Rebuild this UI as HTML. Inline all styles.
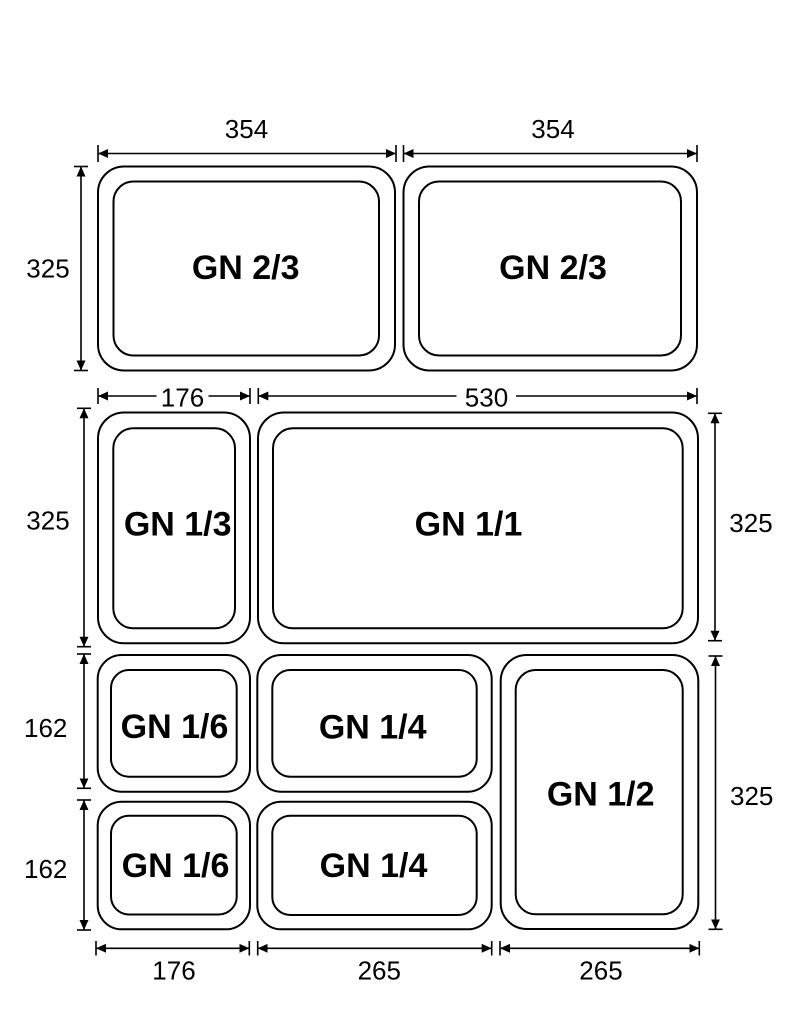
<!DOCTYPE html>
<html>
<head>
<meta charset="utf-8">
<style>
  html,body{margin:0;padding:0;background:#fff;}
  svg{display:block;}
  .b{fill:none;stroke:#000;stroke-width:2;}
  .d{stroke:#000;stroke-width:1.6;fill:none;}
  .t{stroke:#000;stroke-width:1.6;}
  .n{font-family:"Liberation Sans",Arial,sans-serif;font-size:26px;fill:#000;text-anchor:middle;}
  .l{font-family:"Liberation Sans",Arial,sans-serif;font-size:34px;font-weight:bold;fill:#000;text-anchor:middle;}
</style>
</head>
<body>
<svg width="800" height="1025" viewBox="0 0 800 1025" xmlns="http://www.w3.org/2000/svg">
  <defs>
    <marker id="ar" viewBox="0 0 10 9" refX="10" refY="4.5" markerWidth="10" markerHeight="9" orient="auto-start-reverse" markerUnits="userSpaceOnUse">
      <path d="M0,0 L10,4.5 L0,9 z" fill="#000"/>
    </marker>
  </defs>
  <rect width="800" height="1025" fill="#fff"/>

  <!-- ===== Top row ===== -->
  <line class="d" x1="98" y1="153.5" x2="396" y2="153.5" marker-start="url(#ar)" marker-end="url(#ar)"/>
  <line class="d" x1="403.5" y1="153.5" x2="697" y2="153.5" marker-start="url(#ar)" marker-end="url(#ar)"/>
  <line class="t" x1="98" y1="145" x2="98" y2="162"/>
  <line class="t" x1="396" y1="145" x2="396" y2="162"/>
  <line class="t" x1="403.5" y1="145" x2="403.5" y2="162"/>
  <line class="t" x1="697" y1="145" x2="697" y2="162"/>
  <text class="n" x="246.5" y="138">354</text>
  <text class="n" x="553" y="138">354</text>

  <line class="d" x1="81" y1="166.5" x2="81" y2="370.5" marker-start="url(#ar)" marker-end="url(#ar)"/>
  <line class="t" x1="74" y1="166.5" x2="88" y2="166.5"/>
  <line class="t" x1="74" y1="370.5" x2="88" y2="370.5"/>
  <text class="n" x="48" y="277.5">325</text>

  <rect class="b" x="98" y="166.5" width="297" height="204" rx="26" ry="26"/>
  <rect class="b" x="113.5" y="181.5" width="265.5" height="174" rx="20" ry="20"/>
  <text class="l" x="245.7" y="279">GN 2/3</text>
  <rect class="b" x="403.5" y="166.5" width="293.5" height="204" rx="26" ry="26"/>
  <rect class="b" x="419" y="181.5" width="262" height="174" rx="20" ry="20"/>
  <text class="l" x="553" y="279">GN 2/3</text>

  <!-- ===== Row 2 ===== -->
  <line class="d" x1="98" y1="396" x2="156.5" y2="396" marker-start="url(#ar)"/>
  <line class="d" x1="208.5" y1="396" x2="250" y2="396" marker-end="url(#ar)"/>
  <line class="d" x1="258.3" y1="396" x2="456.5" y2="396" marker-start="url(#ar)"/>
  <line class="d" x1="516" y1="396" x2="697" y2="396" marker-end="url(#ar)"/>
  <line class="t" x1="98" y1="388" x2="98" y2="404"/>
  <line class="t" x1="250" y1="388" x2="250" y2="404"/>
  <line class="t" x1="258.3" y1="388" x2="258.3" y2="404"/>
  <line class="t" x1="697" y1="388" x2="697" y2="404"/>
  <text class="n" x="182.5" y="406.5">176</text>
  <text class="n" x="486.5" y="406.5">530</text>

  <line class="d" x1="84" y1="408.3" x2="84" y2="646.7" marker-start="url(#ar)" marker-end="url(#ar)"/>
  <line class="t" x1="77" y1="408.3" x2="91" y2="408.3"/>
  <line class="t" x1="77" y1="646.7" x2="91" y2="646.7"/>
  <text class="n" x="48" y="529.5">325</text>

  <line class="d" x1="715" y1="413.3" x2="715" y2="640.7" marker-start="url(#ar)" marker-end="url(#ar)"/>
  <line class="t" x1="708" y1="413.3" x2="722" y2="413.3"/>
  <line class="t" x1="708" y1="640.7" x2="722" y2="640.7"/>
  <text class="n" x="751" y="532">325</text>

  <rect class="b" x="98" y="412.5" width="152" height="230.8" rx="26" ry="26"/>
  <rect class="b" x="113.3" y="428.3" width="121.7" height="200" rx="20" ry="20"/>
  <text class="l" x="177.7" y="535.5">GN 1/3</text>

  <rect class="b" x="258" y="412.5" width="440" height="230.8" rx="26" ry="26"/>
  <rect class="b" x="273" y="428.3" width="409.7" height="200" rx="20" ry="20"/>
  <text class="l" x="468.5" y="535.5">GN 1/1</text>

  <!-- ===== Row 3 ===== -->
  <line class="d" x1="84" y1="654" x2="84" y2="788.3" marker-start="url(#ar)" marker-end="url(#ar)"/>
  <line class="t" x1="77" y1="654" x2="91" y2="654"/>
  <line class="t" x1="77" y1="788.3" x2="91" y2="788.3"/>
  <text class="n" x="45.7" y="736.8">162</text>
  <line class="d" x1="84" y1="800" x2="84" y2="930" marker-start="url(#ar)" marker-end="url(#ar)"/>
  <line class="t" x1="77" y1="800" x2="91" y2="800"/>
  <line class="t" x1="77" y1="930" x2="91" y2="930"/>
  <text class="n" x="45.7" y="877.8">162</text>

  <line class="d" x1="715.5" y1="656" x2="715.5" y2="929.3" marker-start="url(#ar)" marker-end="url(#ar)"/>
  <line class="t" x1="708.5" y1="656" x2="722.5" y2="656"/>
  <line class="t" x1="708.5" y1="929.3" x2="722.5" y2="929.3"/>
  <text class="n" x="751.7" y="805.2">325</text>

  <rect class="b" x="97.7" y="655" width="152.3" height="136.7" rx="24" ry="24"/>
  <rect class="b" x="111" y="670" width="125.7" height="106.7" rx="18" ry="18"/>
  <text class="l" x="174.5" y="738">GN 1/6</text>
  <rect class="b" x="97.7" y="801.7" width="152.3" height="127.6" rx="24" ry="24"/>
  <rect class="b" x="111" y="815.7" width="125.7" height="98.8" rx="18" ry="18"/>
  <text class="l" x="175.5" y="877">GN 1/6</text>

  <rect class="b" x="257.3" y="655" width="234.4" height="136.7" rx="24" ry="24"/>
  <rect class="b" x="272.3" y="670" width="204.4" height="106.7" rx="18" ry="18"/>
  <text class="l" x="372.7" y="738.5">GN 1/4</text>
  <rect class="b" x="257.3" y="801.7" width="234.4" height="127.6" rx="24" ry="24"/>
  <rect class="b" x="272.3" y="815.7" width="204.4" height="99.3" rx="18" ry="18"/>
  <text class="l" x="373.5" y="877">GN 1/4</text>

  <rect class="b" x="500.7" y="655" width="197.6" height="274" rx="26" ry="26"/>
  <rect class="b" x="515.7" y="670" width="167" height="244.3" rx="20" ry="20"/>
  <text class="l" x="600.7" y="805.5">GN 1/2</text>

  <!-- bottom dims -->
  <line class="d" x1="96" y1="948.3" x2="249.3" y2="948.3" marker-start="url(#ar)" marker-end="url(#ar)"/>
  <line class="d" x1="257.7" y1="948.3" x2="491.7" y2="948.3" marker-start="url(#ar)" marker-end="url(#ar)"/>
  <line class="d" x1="500" y1="948.3" x2="699.3" y2="948.3" marker-start="url(#ar)" marker-end="url(#ar)"/>
  <line class="t" x1="96" y1="941" x2="96" y2="955.5"/>
  <line class="t" x1="249.3" y1="941" x2="249.3" y2="955.5"/>
  <line class="t" x1="257.7" y1="941" x2="257.7" y2="955.5"/>
  <line class="t" x1="491.7" y1="941" x2="491.7" y2="955.5"/>
  <line class="t" x1="500" y1="941" x2="500" y2="955.5"/>
  <line class="t" x1="699.3" y1="941" x2="699.3" y2="955.5"/>
  <text class="n" x="174" y="979.5">176</text>
  <text class="n" x="379.3" y="979.5">265</text>
  <text class="n" x="601" y="979.5">265</text>
</svg>
</body>
</html>
